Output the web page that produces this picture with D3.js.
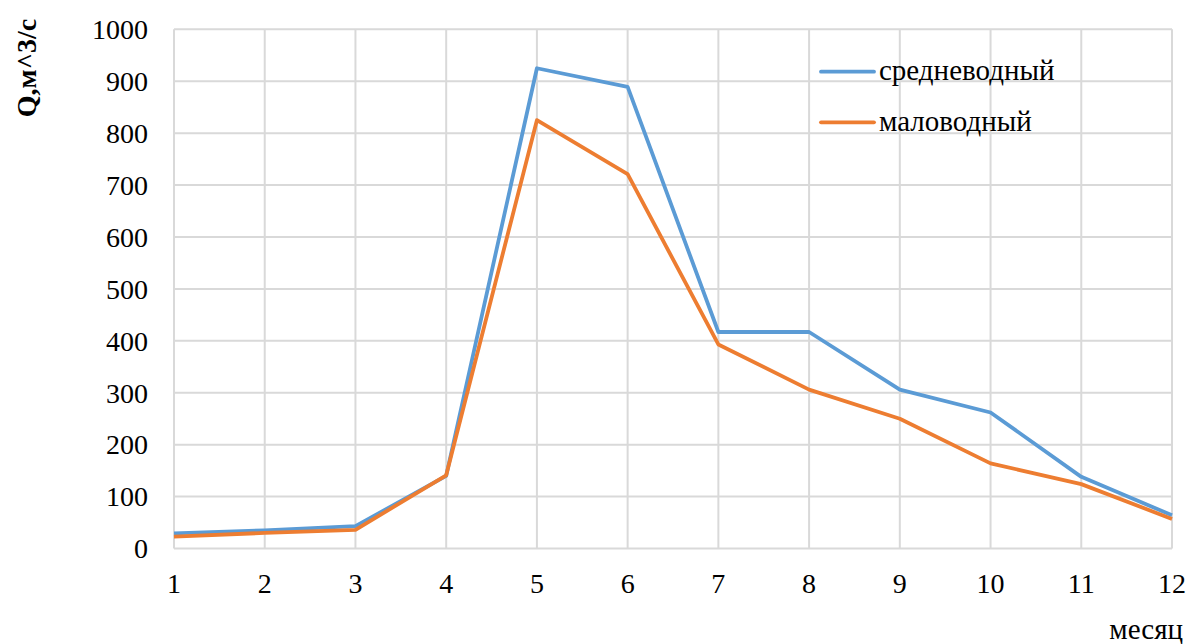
<!DOCTYPE html>
<html><head><meta charset="utf-8">
<script src="https://cdn.jsdelivr.net/npm/d3@7"></script>
<style>body{margin:0;background:#fff}svg{display:block}
svg text{font-family:"Liberation Serif","Times New Roman",Tinos,"DejaVu Serif",serif;fill:#000}</style>
</head><body>
<svg id="c" width="1190" height="644"></svg>
<script>
const months = [1,2,3,4,5,6,7,8,9,10,11,12];
const sredne = [29,35,43,140,925,889,417,417,306,262,138,64];
const malo = [23,30,36,141,825,721,393,306,250,164,124,57];
const yTicks = [0,100,200,300,400,500,600,700,800,900,1000];
const seriesNames = ["средневодный","маловодный"];
const colors = ["#5B9BD5","#ED7D31"];

const svg = d3.select("#c");
const x = d3.scaleLinear().domain([1,12]).range([174,1172]);
const y = d3.scaleLinear().domain([0,1000]).range([548.5,29.3]);

// grid
svg.append("g").selectAll("line").data(yTicks).join("line")
  .attr("x1",x(1)).attr("x2",x(12)).attr("y1",d=>y(d)).attr("y2",d=>y(d))
  .attr("stroke","#d9d9d9").attr("stroke-width",2);
svg.append("g").selectAll("line").data(months).join("line")
  .attr("x1",d=>x(d)).attr("x2",d=>x(d)).attr("y1",y(0)).attr("y2",y(1000))
  .attr("stroke","#d9d9d9").attr("stroke-width",2);

// y tick labels
svg.append("g").selectAll("text").data(yTicks).join("text")
  .attr("x",148).attr("y",d=>y(d)).attr("dy","0.35em")
  .attr("text-anchor","end").attr("font-size",28)
  .text(d=>d);
// x tick labels
svg.append("g").selectAll("text").data(months).join("text")
  .attr("x",d=>x(d)).attr("y",593)
  .attr("text-anchor","middle").attr("font-size",28)
  .text(d=>d);

// axis titles
svg.append("text").attr("transform","translate(36,68) rotate(-90)")
  .attr("text-anchor","middle").attr("font-size",28)
  .attr("font-weight","bold").text("Q,м^3/с");
svg.append("text").attr("x",1183).attr("y",639).attr("text-anchor","end")
  .attr("font-size",29).text("месяц");

// lines
const line = d3.line().x((d,i)=>x(months[i])).y(d=>y(d));
[sredne, malo].forEach((s,i)=>{
  svg.append("path").datum(s).attr("d",line).attr("fill","none")
    .attr("stroke",colors[i]).attr("stroke-width",3.8).attr("stroke-linejoin","round");
});

// legend
const leg = svg.append("g");
seriesNames.forEach((n,i)=>{
  const ly = 71.7 + i*50.6;
  leg.append("line").attr("x1",821).attr("x2",874).attr("y1",ly).attr("y2",ly)
    .attr("stroke",colors[i]).attr("stroke-width",3.8).attr("stroke-linecap","round");
  leg.append("text").attr("x",879).attr("y",ly).attr("dy","0.3em")
    .attr("font-size",29).text(n);
});
</script>
</body></html>
